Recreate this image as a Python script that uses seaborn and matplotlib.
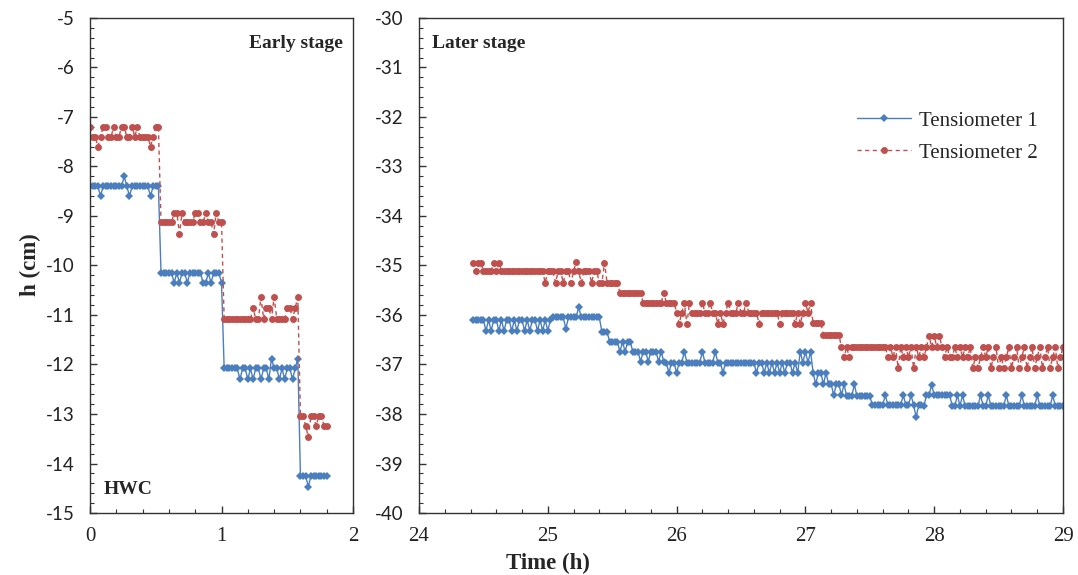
import numpy as np
import pandas as pd
import matplotlib
matplotlib.use("Agg")
import matplotlib.pyplot as plt
import seaborn as sns
from matplotlib.ticker import MultipleLocator
from matplotlib.lines import Line2D

# ---------------- data ----------------
DT = 0.02  # sampling interval (h)

# Early stage, Tensiometer 1
early_t1_step_starts = [0.00, 0.54, 1.02, 1.60]
early_t1_step_levels = [-8.40, -10.15, -12.08, -14.25]
early_t1_spike_times = [0.08, 0.26, 0.30, 0.46,
                        0.64, 0.68, 0.74, 0.86, 0.88, 0.92, 1.00,
                        1.14, 1.20, 1.24, 1.30, 1.36, 1.38, 1.44, 1.48, 1.54, 1.58,
                        1.66]
early_t1_spike_values = [-8.60, -8.20, -8.60, -8.60,
                         -10.35, -10.35, -10.35, -10.35, -10.35, -10.35, -10.35,
                         -12.30, -12.30, -12.30, -12.30, -12.30, -11.88, -12.30, -12.30, -12.30, -11.88,
                         -14.47]

# Early stage, Tensiometer 2
early_t2_step_starts = [0.00, 0.54, 1.02, 1.60]
early_t2_step_levels = [-7.40, -9.13, -11.08, -13.24]
early_t2_spike_times = [0.00, 0.06, 0.10, 0.12, 0.18, 0.24, 0.26, 0.32, 0.36, 0.46, 0.50, 0.52,
                        0.64, 0.66, 0.68, 0.70, 0.80, 0.82, 0.88, 0.94, 0.96,
                        1.24, 1.30, 1.34, 1.36, 1.40, 1.50, 1.52, 1.56, 1.58,
                        1.60, 1.62, 1.66, 1.68, 1.70, 1.74, 1.76]
early_t2_spike_values = [-7.20, -7.60, -7.20, -7.20, -7.20, -7.20, -7.20, -7.20, -7.20, -7.60, -7.20, -7.20,
                         -8.93, -8.93, -9.36, -8.93, -8.93, -8.93, -8.93, -9.36, -8.93,
                         -10.86, -10.64, -10.86, -10.86, -10.64, -10.86, -10.86, -10.86, -10.64,
                         -13.04, -13.04, -13.47, -13.04, -13.04, -13.04, -13.04]
early_range = (0.00, 1.80)

# Later stage, Tensiometer 1
later_t1_step_starts = [24.42, 25.04, 25.42, 25.48, 25.66, 25.92, 27.06, 27.20, 27.32, 27.52, 27.92, 28.14]
later_t1_step_levels = [-36.10, -36.05, -36.34, -36.54, -36.74, -36.96, -37.17, -37.40, -37.64, -37.82, -37.62, -37.84]
later_t1_spike_times = [24.52, 24.56, 24.62, 24.66, 24.72, 24.76, 24.82, 24.86, 24.92, 24.96, 25.00,
                        25.14, 25.24,
                        25.56, 25.60,
                        25.72, 25.78, 25.86, 25.90,
                        25.94, 26.00, 26.06, 26.20, 26.30, 26.36,
                        26.62, 26.68, 26.72, 26.76, 26.80, 26.84, 26.90, 26.94,
                        26.96, 27.00, 27.04,
                        27.08, 27.14, 27.18, 27.22, 27.28, 27.38,
                        27.62, 27.76, 27.82, 27.86, 27.92, 27.98,
                        28.18, 28.22, 28.36, 28.42, 28.56, 28.68, 28.80, 28.92]
later_t1_spike_values = [-36.32, -36.32, -36.32, -36.32, -36.32, -36.32, -36.32, -36.32, -36.32, -36.32, -36.32,
                         -36.28, -35.84,
                         -36.74, -36.74,
                         -36.94, -36.94, -36.94, -36.94,
                         -37.17, -37.17, -36.74, -36.74, -36.74, -37.17,
                         -37.17, -37.17, -37.17, -37.17, -37.17, -37.17, -37.17, -37.17,
                         -36.74, -36.74, -36.74,
                         -37.40, -37.40, -37.40, -37.62, -37.62, -37.40,
                         -37.62, -37.62, -37.62, -38.06, -37.84, -37.41,
                         -37.62, -37.62, -37.62, -37.62, -37.62, -37.62, -37.62, -37.62]

# Later stage, Tensiometer 2
later_t2_step_starts = [24.42, 24.50, 25.40, 25.56, 25.74, 26.00, 27.06, 27.14, 27.28, 28.14]
later_t2_step_levels = [-34.94, -35.12, -35.35, -35.55, -35.75, -35.95, -36.17, -36.40, -36.65, -36.85]
later_t2_spike_times = [24.44, 24.58, 24.62,
                        24.98, 25.06, 25.12, 25.18, 25.22, 25.26, 25.34, 25.44,
                        25.90,
                        26.02, 26.06, 26.08, 26.10, 26.20, 26.26, 26.32, 26.36, 26.40, 26.48, 26.54,
                        26.64, 26.80, 26.92, 26.96, 27.00, 27.04,
                        27.30, 27.34,
                        27.64, 27.68, 27.72, 27.76, 27.80, 27.84, 27.88, 27.92, 27.96, 28.00, 28.04, 28.08, 28.12,
                        28.16, 28.20, 28.24, 28.28, 28.30, 28.34, 28.38, 28.42, 28.44, 28.48, 28.50, 28.54,
                        28.58, 28.60, 28.64, 28.66, 28.70, 28.72, 28.76, 28.78, 28.82, 28.84, 28.88, 28.90,
                        28.94, 28.96, 29.00]
later_t2_spike_values = [-35.12, -34.94, -34.94,
                         -35.35, -35.35, -35.35, -35.35, -34.92, -35.35, -35.35, -34.94,
                         -35.55,
                         -36.18, -35.75, -36.18, -35.75, -35.75, -35.75, -36.18, -36.18, -35.75, -35.75, -35.75,
                         -36.18, -36.18, -36.18, -36.18, -35.75, -35.75,
                         -36.85, -36.85,
                         -36.85, -36.85, -37.07, -36.85, -36.85, -37.07, -36.85, -36.85, -36.42, -36.42, -36.42, -36.85, -36.85,
                         -36.65, -36.65, -36.65, -36.65, -37.07, -37.07, -36.65, -36.65, -37.07, -36.65, -37.07, -37.07,
                         -36.65, -37.07, -36.65, -37.07, -36.65, -37.07, -36.65, -37.07, -36.65, -37.07, -36.65, -37.07,
                         -36.65, -37.07, -36.65]
later_range = (24.42, 29.00)

series_names = ["Tensiometer 1", "Tensiometer 2"]
early_xticks = [0, 1, 2]
later_xticks = [24, 25, 26, 27, 28, 29]
early_yticks = [-5, -6, -7, -8, -9, -10, -11, -12, -13, -14, -15]
later_yticks = [-30, -31, -32, -33, -34, -35, -36, -37, -38, -39, -40]


def build(trange, starts, levels, spike_t, spike_v):
    t = np.round(np.arange(trange[0], trange[1] + DT / 2, DT), 4)
    idx = np.searchsorted(np.round(np.array(starts), 4), t, side="right") - 1
    y = np.array(levels, dtype=float)[idx]
    for st, sv in zip(spike_t, spike_v):
        y[np.argmin(np.abs(t - st))] = sv
    return pd.DataFrame({"t": t, "h": y})


early1 = build(early_range, early_t1_step_starts, early_t1_step_levels, early_t1_spike_times, early_t1_spike_values)
early2 = build(early_range, early_t2_step_starts, early_t2_step_levels, early_t2_spike_times, early_t2_spike_values)
later1 = build(later_range, later_t1_step_starts, later_t1_step_levels, later_t1_spike_times, later_t1_spike_values)
later2 = build(later_range, later_t2_step_starts, later_t2_step_levels, later_t2_spike_times, later_t2_spike_values)

# ---------------- style ----------------
sns.set_theme(style="white")
SERIF = ["Liberation Serif", "DejaVu Serif"]
SANS = ["Lato", "DejaVu Sans"]
plt.rcParams["font.family"] = SERIF
plt.rcParams["axes.unicode_minus"] = False

BLUE = "#4a7ebf"
RED = "#c0504d"

fig = plt.figure(figsize=(10.78, 5.75), dpi=100)
ax1 = fig.add_axes([0.0835, 0.1078, 0.244, 0.861])
ax2 = fig.add_axes([0.3887, 0.1078, 0.5974, 0.861])

MS1, MS2 = 4.4, 5.0
style1 = dict(color=BLUE, linewidth=1.0, marker="D", markersize=MS1,
              markeredgewidth=0, linestyle="-", estimator=None, sort=False)
style2 = dict(color=RED, linewidth=1.0, marker="o", markersize=MS2,
              markeredgewidth=0, linestyle=(0, (3, 2.5)), estimator=None, sort=False)

sns.lineplot(data=early1, x="t", y="h", ax=ax1, **style1)
sns.lineplot(data=early2, x="t", y="h", ax=ax1, **style2)
sns.lineplot(data=later1, x="t", y="h", ax=ax2, **style1)
sns.lineplot(data=later2, x="t", y="h", ax=ax2, **style2)

for ax, xt, yt in [(ax1, early_xticks, early_yticks), (ax2, later_xticks, later_yticks)]:
    ax.set_xlim(xt[0], xt[-1])
    ax.set_ylim(yt[-1], yt[0])
    ax.set_xticks(xt)
    ax.set_yticks(yt)
    ax.xaxis.set_minor_locator(MultipleLocator(0.2))
    ax.yaxis.set_minor_locator(MultipleLocator(0.2))
    ax.tick_params(which="major", direction="in", length=5, width=1, color="#333333",
                   top=False, right=False, bottom=True, left=True)
    ax.tick_params(which="minor", direction="in", length=3, width=0.8, color="#333333",
                   top=False, right=False, bottom=True, left=True)
    ax.tick_params(axis="x", which="major", pad=10)
    ax.tick_params(axis="y", which="major", pad=11)
    ax.set_xlabel("")
    ax.set_ylabel("")
    for s in ax.spines.values():
        s.set_color("#333333")
        s.set_linewidth(1.0)
        s.set_visible(True)
    for lab in ax.get_yticklabels():
        lab.set_fontfamily(SANS)
        lab.set_fontsize(13.5)
        lab.set_color("#222222")
    for lab in ax.get_xticklabels():
        lab.set_fontfamily(SERIF)
        lab.set_fontsize(15)
        lab.set_color("#222222")
    ax.grid(False)

ax1.text(0.96, 0.965, "Early stage", transform=ax1.transAxes, ha="right", va="top",
         fontsize=14, fontweight="bold", family=SERIF)
ax1.text(0.05, 0.03, "HWC", transform=ax1.transAxes, ha="left", va="bottom",
         fontsize=14, fontweight="bold", family=SERIF)
ax2.text(0.02, 0.965, "Later stage", transform=ax2.transAxes, ha="left", va="top",
         fontsize=14, fontweight="bold", family=SERIF)

fig.text(548 / 1078, 1 - 563 / 575, "Time (h)", ha="center", va="center",
         fontsize=16.5, fontweight="bold", family=SERIF)
fig.text(30 / 1078, 1 - 265 / 575, "h (cm)", ha="center", va="center", rotation=90,
         fontsize=16.5, fontweight="bold", family=SERIF)

handles = [Line2D([0], [0], color=BLUE, lw=1.0, marker="D", markersize=MS1, markeredgewidth=0),
           Line2D([0], [0], color=RED, lw=1.0, marker="o", markersize=MS2, markeredgewidth=0,
                  linestyle=(0, (3, 2.5)))]
ax2.legend(handles, series_names, loc="upper right", bbox_to_anchor=(0.99, 0.85),
           frameon=False, prop={"family": SERIF, "size": 15}, handlelength=2.6,
           handletextpad=0.4, labelspacing=0.6, numpoints=1)

fig.savefig("out.png", dpi=100)
